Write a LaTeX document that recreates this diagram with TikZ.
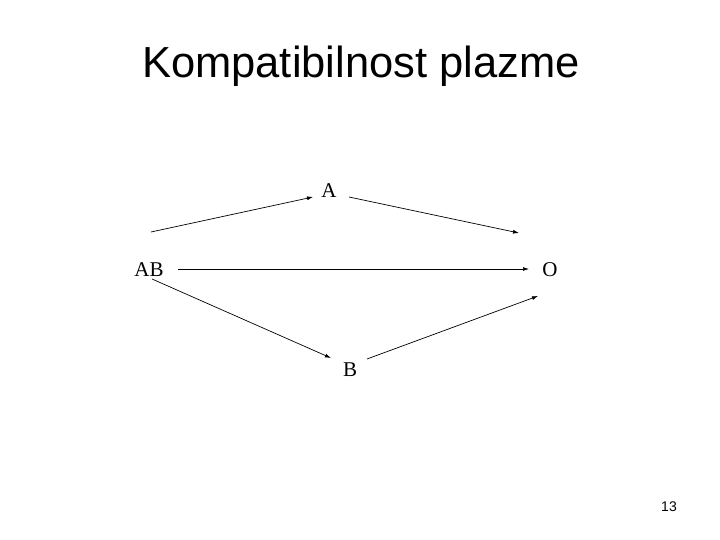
\documentclass[tikz,border=0pt]{standalone}
\usepackage{fontspec}
\setmainfont{Liberation Serif}
\newfontfamily\arialfont{Liberation Sans}
\usetikzlibrary{calc,arrows.meta}
\tikzset{
  lbl/.style={anchor=base,inner sep=0pt,font=\fontsize{21bp}{24bp}\selectfont},
  arr/.style={line width=0.7bp,-{Latex[length=6bp,width=4bp]}},
}
\begin{document}
\begin{tikzpicture}[x=1bp,y=-1bp]
\useasboundingbox (0,0) rectangle (720,540);
\node[anchor=base,inner sep=0pt,font=\arialfont\fontsize{43.5bp}{48bp}\selectfont] (title) at (361,78) {Kompatibilnost plazme};
\node[lbl] (AB) at (149,277) {AB};
\node[lbl] (A) at (329,198) {A};
\node[lbl] (O) at (550,277) {O};
\node[lbl] (B) at (350,376) {B};
\node[anchor=base,inner sep=0pt,font=\arialfont\fontsize{14bp}{16bp}\selectfont] (pg) at (669,511) {13};
\draw[arr] ($(AB.base)+(2,-45)$) -- ($(A.base)+(-16,-1)$);
\draw[arr] ($(A.base)+(20,-1)$) -- ($(O.base)+(-31,-44)$);
\draw[arr] ($(AB.base)+(29,-8)$) -- ($(O.base)+(-21,-8)$);
\draw[arr] ($(AB.base)+(3,2)$) -- ($(B.base)+(-19,-18)$);
\draw[arr] ($(B.base)+(17,-17)$) -- ($(O.base)+(-12,19)$);
\end{tikzpicture}
\end{document}
